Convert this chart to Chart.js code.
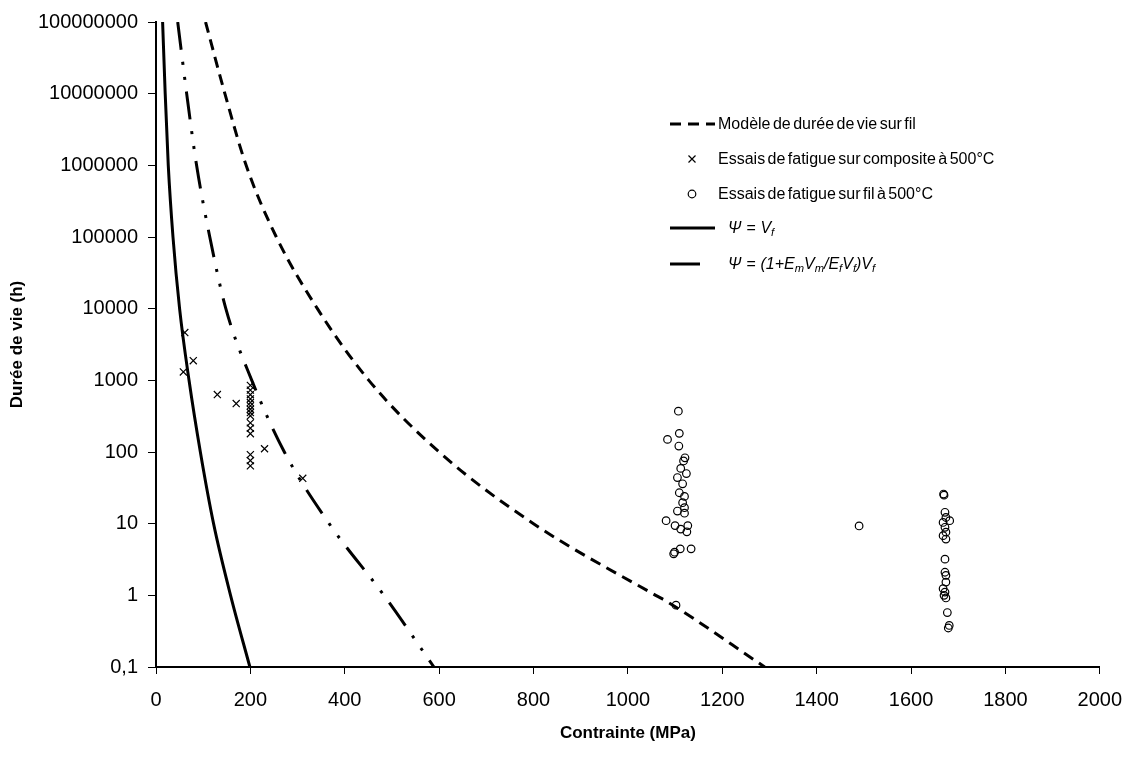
<!DOCTYPE html>
<html>
<head>
<meta charset="utf-8">
<script src="https://cdn.jsdelivr.net/npm/chart.js@4.4.0/dist/chart.umd.min.js"></script>
<style>
html,body{margin:0;padding:0;background:#fff;}
#wrap{position:relative;width:1136px;height:758px;overflow:hidden;}
#legend{position:absolute;left:0;top:0;width:1136px;height:758px;pointer-events:none;
  font-family:"Liberation Sans",Arial,sans-serif;font-size:16px;color:#000;}
.item{position:absolute;height:22px;display:flex;align-items:center;white-space:nowrap;word-spacing:-2px;}
.item svg{flex:none;}
.item sub{font-size:0.7em;vertical-align:-0.3em;line-height:0;}
</style>
</head>
<body>
<div id="wrap">
<canvas id="c" width="1136" height="758"></canvas>
<div id="legend"></div>
</div>
<script>
// ---- Axis ticks ----
const xTickValues = [0,200,400,600,800,1000,1200,1400,1600,1800,2000];
const xTickLabels = ["0","200","400","600","800","1000","1200","1400","1600","1800","2000"];
const yTickValues = [0.1,1,10,100,1000,10000,100000,1000000,10000000,100000000];
const yTickLabels = ["0,1","1","10","100","1000","10000","100000","1000000","10000000","100000000"];

// ---- Series: Modèle de durée de vie sur fil (dashed) ----
const modelStress = [105,146,191,255,342,451,600,800,1059,1084,1290];
const modelLife   = [1e8,1e7,1e6,1e5,1e4,1e3,100,10,1,0.81,0.1];

// ---- Series: Essais de fatigue sur composite à 500°C (crosses) ----
const compStress = [61,58,79,130,170,200,200,200,200,200,200,200,200,200,200,200,200,200,200,200,230,311];
const compLife   = [4640,1310,1880,633,474,850,730,630,550,490,440,395,355,320,255,215,180,92,76,64,111,43];

// ---- Series: Essais de fatigue sur fil à 500°C (circles) ----
const filStress = [1107,1084,1109,1108,1121,1118,1112,1124,1105,1116,1109,1120,1116,1120,1105,1120,1081,1100,1112,1127,1125,1111,1134,1097,1099,1102,
                   1490,
                   1669,1670,1672,1674,1682,1668,1672,1674,1668,1674,1672,1672,1674,1674,1668,1672,1670,1674,1677,1681,1679];
const filLife   = [371,150,182,121,83,75,59,50,44,36,27,24,19.6,16.7,15,14,11,9.4,8.4,9.4,7.7,4.45,4.45,3.8,4.0,0.73,
                   9.3,
                   25.9,25,14.4,12.2,11,10.4,8.9,7.6,6.8,6.1,3.2,2.1,1.9,1.53,1.24,1.11,1.0,0.92,0.575,0.38,0.35];

// ---- Series: Ψ = Vf (solid) ----
const vfStress = [14,19.5,26,36,50,70,94,122,158,199];
const vfLife   = [1e8,1e7,1e6,1e5,1e4,1e3,100,10,1,0.1];

// ---- Series: Ψ = (1+EmVm/EfVf)Vf (dash-dot-dot) ----
const vf2Stress = [46,65,86,114,148,203,272,367,483,589];
const vf2Life   = [1e8,1e7,1e6,1e5,1e4,1e3,100,10,1,0.1];

const seriesLabels = [
  "Modèle de durée de vie sur fil",
  "Essais de fatigue sur composite à 500°C",
  "Essais de fatigue sur fil à 500°C",
  "Ψ = Vf",
  "Ψ = (1+EmVm/EfVf)Vf"
];

const pts = (xs, ys) => xs.map((x, i) => ({x: x, y: ys[i]}));

const FONT = '"Liberation Sans", Arial, sans-serif';

const chart = new Chart(document.getElementById('c'), {
  type: 'scatter',
  data: {
    datasets: [
      {label: seriesLabels[0], data: pts(modelStress, modelLife), showLine: true,
       borderColor: '#000', borderWidth: 3, borderDash: [11, 7], pointRadius: 0,
       cubicInterpolationMode: 'monotone', fill: false},
      {label: seriesLabels[1], data: pts(compStress, compLife), showLine: false,
       pointStyle: 'crossRot', pointRadius: 5, borderColor: '#000', borderWidth: 1.2,
       backgroundColor: 'rgba(0,0,0,0)'},
      {label: seriesLabels[2], data: pts(filStress, filLife), showLine: false,
       pointStyle: 'circle', pointRadius: 3.8, borderColor: '#000', borderWidth: 1.2,
       backgroundColor: 'rgba(0,0,0,0)'},
      {label: seriesLabels[3], data: pts(vfStress, vfLife), showLine: true,
       borderColor: '#000', borderWidth: 3, pointRadius: 0,
       cubicInterpolationMode: 'monotone', fill: false},
      {label: seriesLabels[4], data: pts(vf2Stress, vf2Life), showLine: true,
       borderColor: '#000', borderWidth: 3, borderDash: [28, 12, 3, 12, 3, 12], pointRadius: 0,
       cubicInterpolationMode: 'monotone', fill: false}
    ]
  },
  options: {
    responsive: false,
    animation: false,
    devicePixelRatio: 1,
    layout: {padding: {left: 0, top: 19, right: 32, bottom: 0}},
    plugins: {legend: {display: false}, tooltip: {enabled: false}},
    scales: {
      x: {
        type: 'linear', min: 0, max: 2000,
        afterBuildTicks: (s) => { s.ticks = xTickValues.map(v => ({value: v})); },
        afterFit: (s) => { s.height = 91; },
        ticks: {color: '#000', font: {family: FONT, size: 20}, padding: 14, maxRotation: 0,
                callback: (v, i) => xTickLabels[i]},
        grid: {display: true, drawOnChartArea: false, drawTicks: true, tickLength: 7, color: '#000', lineWidth: 1},
        border: {display: true, color: '#000', width: 2},
        title: {display: true, text: 'Contrainte (MPa)', color: '#000',
                font: {family: FONT, size: 17, weight: 'bold'}, padding: {top: 0, bottom: 14}}
      },
      y: {
        type: 'logarithmic', min: 0.1, max: 1e8,
        afterBuildTicks: (s) => { s.ticks = yTickValues.map(v => ({value: v})); },
        afterFit: (s) => { s.width = 156; },
        ticks: {color: '#000', font: {family: FONT, size: 20}, padding: 10,
                callback: (v, i) => yTickLabels[i]},
        grid: {display: true, drawOnChartArea: false, drawTicks: true, tickLength: 8, color: '#000', lineWidth: 1},
        border: {display: true, color: '#000', width: 2},
        title: {display: true, text: 'Durée de vie (h)', color: '#000',
                font: {family: FONT, size: 17, weight: 'bold'}, padding: {top: 7, bottom: 0}}
      }
    }
  }
});

// ---- HTML legend (rich text for subscripts) ----
const legendRows = [
  {y: 124, sym: 'dash',   textX: 718, html: 'Modèle de durée de vie sur fil'},
  {y: 159, sym: 'cross',  textX: 718, html: 'Essais de fatigue sur composite à 500°C'},
  {y: 194, sym: 'circle', textX: 718, html: 'Essais de fatigue sur fil à 500°C'},
  {y: 228, sym: 'solid',  textX: 728, html: '<i>Ψ&nbsp; =&nbsp; V<sub>f</sub></i>'},
  {y: 264, sym: 'dashdot',textX: 728, html: '<i>Ψ&nbsp; =&nbsp; (1+E<sub>m</sub>V<sub>m</sub>/E<sub>f</sub>V<sub>f</sub>)V<sub>f</sub></i>'}
];
const symX = 670;
const NS = 'http://www.w3.org/2000/svg';
const leg = document.getElementById('legend');
legendRows.forEach(r => {
  const d = document.createElement('div');
  d.className = 'item';
  d.style.left = symX + 'px';
  d.style.top = (r.y - 11) + 'px';
  const svg = document.createElementNS(NS, 'svg');
  const w = r.textX - symX;
  svg.setAttribute('width', w); svg.setAttribute('height', 22);
  let el;
  if (r.sym === 'dash' || r.sym === 'solid' || r.sym === 'dashdot') {
    el = document.createElementNS(NS, 'line');
    el.setAttribute('x1', 0); el.setAttribute('y1', 11);
    el.setAttribute('x2', r.sym === 'dashdot' ? 30 : 45); el.setAttribute('y2', 11);
    el.setAttribute('stroke', '#000'); el.setAttribute('stroke-width', 3);
    if (r.sym === 'dash') el.setAttribute('stroke-dasharray', '11 7');
  } else if (r.sym === 'cross') {
    el = document.createElementNS(NS, 'path');
    el.setAttribute('d', 'M18.5 7.5 L25.5 14.5 M25.5 7.5 L18.5 14.5');
    el.setAttribute('stroke', '#000'); el.setAttribute('stroke-width', 1.2); el.setAttribute('fill', 'none');
  } else {
    el = document.createElementNS(NS, 'circle');
    el.setAttribute('cx', 22); el.setAttribute('cy', 11); el.setAttribute('r', 3.8);
    el.setAttribute('stroke', '#000'); el.setAttribute('stroke-width', 1.2); el.setAttribute('fill', 'none');
  }
  svg.appendChild(el);
  d.appendChild(svg);
  const t = document.createElement('span');
  t.innerHTML = r.html;
  d.appendChild(t);
  leg.appendChild(d);
});
</script>
</body>
</html>
